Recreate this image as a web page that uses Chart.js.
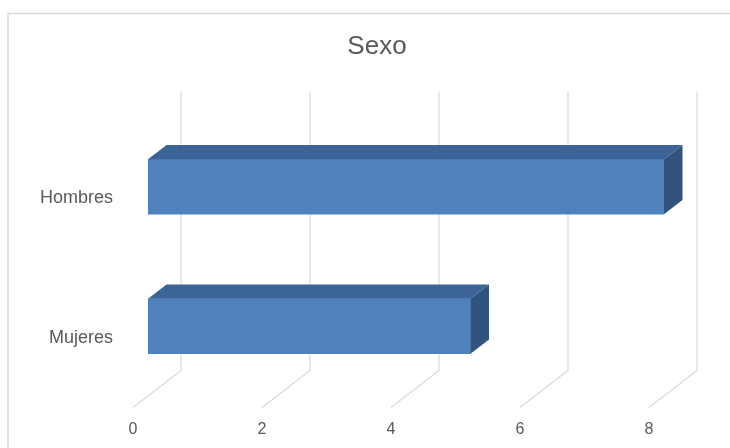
<!DOCTYPE html>
<html lang="es">
<head>
<meta charset="utf-8">
<title>Sexo</title>
<script src="https://cdn.jsdelivr.net/npm/chart.js@4.4.1/dist/chart.umd.min.js"></script>
<style>
  html, body { margin: 0; padding: 0; background: #ffffff; }
  #wrap { position: relative; width: 730px; height: 448px; }
  canvas { display: block; }
</style>
</head>
<body>
<div id="wrap"><canvas id="chart" width="730" height="448"></canvas></div>
<script>
// Respondents by sex
const categories = ['Hombres', 'Mujeres'];
const counts = [8, 5];
const axisMin = 0;
const axisMax = 8;
const axisStep = 2;
const chartTitle = 'Sexo';

// Colours of the bar faces and the frame
const FRONT = '#4F81BD';
const TOP = '#3C6496';
const SIDE = '#31547F';
const GRID = '#D9D9D9';
const TEXT = '#595959';
const FONT = 'Liberation Sans, Arial, sans-serif';

// Depth of the plot box in pixels (front floor edge -> back wall)
const DEPTH = { dx: 48, dy: -37 };
// Bars sit between these fractions of that depth; the scale plane is the bar front
const BAR_FRONT = 0.3125;
const BAR_BACK = 0.698;

// Outer frame and the title, centred over the full chart object
const frame = {
  id: 'frame',
  beforeDraw(chart) {
    const ctx = chart.ctx;
    ctx.save();
    ctx.strokeStyle = GRID;
    ctx.lineWidth = 1.5;
    ctx.beginPath();
    ctx.moveTo(8, 449);
    ctx.lineTo(8, 13.5);
    ctx.lineTo(731, 13.5);
    ctx.stroke();
    ctx.fillStyle = TEXT;
    ctx.font = '26px ' + FONT;
    ctx.textAlign = 'center';
    ctx.textBaseline = 'middle';
    ctx.fillText(chartTitle, 377, 47);
    ctx.restore();
  }
};

// Back-wall grid lines that fold forward across the floor
const wallGrid = {
  id: 'wallGrid',
  beforeDatasetsDraw(chart) {
    const { ctx, chartArea, scales } = chart;
    const x = scales.x;
    const backDx = DEPTH.dx * (1 - BAR_FRONT);
    const backDy = DEPTH.dy * (1 - BAR_FRONT);
    const frontDx = -DEPTH.dx * BAR_FRONT;
    const frontDy = -DEPTH.dy * BAR_FRONT;
    ctx.save();
    ctx.strokeStyle = GRID;
    ctx.lineWidth = 1.2;
    x.ticks.forEach(t => {
      const px = x.getPixelForValue(t.value);
      ctx.beginPath();
      ctx.moveTo(px + backDx, chartArea.top + backDy);
      ctx.lineTo(px + backDx, chartArea.bottom + backDy);
      ctx.lineTo(px + frontDx, chartArea.bottom + frontDy);
      ctx.stroke();
    });
    ctx.restore();
  }
};

// Top and end faces of each bar, extruded back from the front face
const barDepth = {
  id: 'barDepth',
  afterDatasetsDraw(chart) {
    const ctx = chart.ctx;
    const dx = DEPTH.dx * (BAR_BACK - BAR_FRONT);
    const dy = DEPTH.dy * (BAR_BACK - BAR_FRONT);
    chart.getDatasetMeta(0).data.forEach(bar => {
      const { x, y, base, height } = bar.getProps(['x', 'y', 'base', 'height'], true);
      const top = y - height / 2;
      const bottom = y + height / 2;
      ctx.save();
      ctx.fillStyle = TOP;
      ctx.beginPath();
      ctx.moveTo(base, top);
      ctx.lineTo(x, top);
      ctx.lineTo(x + dx, top + dy);
      ctx.lineTo(base + dx, top + dy);
      ctx.closePath();
      ctx.fill();
      ctx.fillStyle = SIDE;
      ctx.beginPath();
      ctx.moveTo(x, top);
      ctx.lineTo(x + dx, top + dy);
      ctx.lineTo(x + dx, bottom + dy);
      ctx.lineTo(x, bottom);
      ctx.closePath();
      ctx.fill();
      ctx.restore();
    });
  }
};

new Chart(document.getElementById('chart'), {
  type: 'bar',
  data: {
    labels: categories,
    datasets: [{
      label: chartTitle,
      data: counts,
      backgroundColor: FRONT,
      borderWidth: 0,
      barThickness: 55
    }]
  },
  options: {
    indexAxis: 'y',
    responsive: false,
    animation: false,
    devicePixelRatio: 1,
    layout: { padding: { left: 0, right: 66, top: 117, bottom: 0 } },
    plugins: {
      legend: { display: false },
      tooltip: { enabled: false },
      title: { display: false }
    },
    scales: {
      x: {
        min: axisMin,
        max: axisMax,
        border: { display: false },
        grid: { display: false, drawTicks: false },
        ticks: {
          stepSize: axisStep,
          color: TEXT,
          padding: 24,
          labelOffset: -DEPTH.dx * BAR_FRONT,
          font: { family: FONT, size: 16 }
        },
        afterFit(scale) { scale.height = 52; }
      },
      y: {
        border: { display: false },
        grid: { display: false, drawTicks: false },
        ticks: {
          color: TEXT,
          padding: 35,
          labelOffset: -DEPTH.dy * BAR_FRONT,
          font: { family: FONT, size: 18 }
        },
        afterFit(scale) { scale.width = 148; }
      }
    }
  },
  plugins: [frame, wallGrid, barDepth]
});
</script>
</body>
</html>
